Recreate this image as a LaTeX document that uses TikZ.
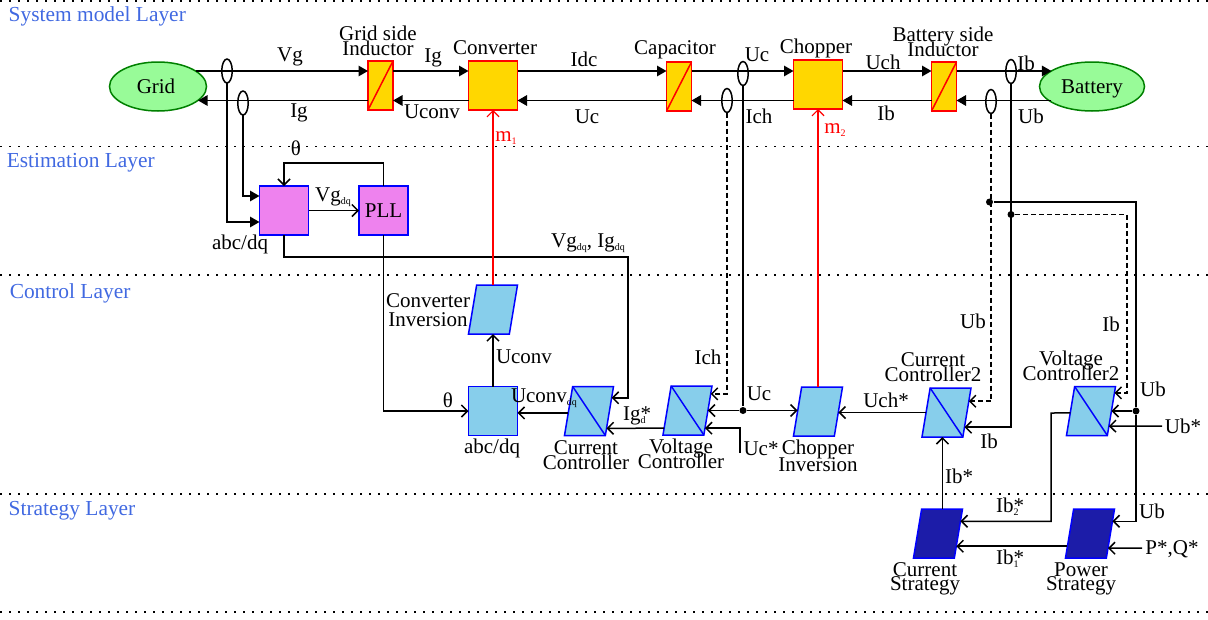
\documentclass[tikz,border=0pt]{standalone}
\usepackage{fontspec}
\setmainfont{Liberation Serif}
\usetikzlibrary{arrows.meta,calc,shapes.geometric}
\definecolor{layerblue}{RGB}{65,105,225}
\definecolor{plantfill}{RGB}{255,215,0}
\definecolor{sourcefill}{RGB}{152,251,152}
\definecolor{sourceedge}{RGB}{0,128,0}
\definecolor{estfill}{RGB}{238,130,238}
\definecolor{ctrlfill}{RGB}{135,206,235}
\definecolor{stratfill}{RGB}{28,28,168}
\newcommand{\subtxt}[1]{\raisebox{-3pt}{\fontsize{10}{10}\selectfont #1}}
\newcommand{\lblfont}{\fontsize{21}{15.5}\selectfont\lineskiplimit=-100pt}
\begin{document}
\begin{tikzpicture}[x=1pt, y=-1pt, line width=1.5pt,
    >={Straight Barb[length=6pt,width=12pt]},
    sig/.style={-{Triangle[length=9.5pt,width=10.5pt]}},
    sensed/.style={dash pattern=on 5pt off 3pt},
    lbl/.style={inner sep=0pt, align=center, font=\lblfont},
    layertag/.style={lbl, anchor=west, text=layerblue, font=\fontsize{21.4}{15.5}\selectfont},
    layerline/.style={line width=1.2pt, dash pattern=on 1.5pt off 7.5pt},
    source/.style={ellipse, draw=sourceedge, fill=sourcefill, inner sep=0pt,
        minimum width=97pt, minimum height=49pt, outer sep=0pt, font=\lblfont},
    plant/.style={rectangle, draw=red, fill=plantfill, line width=1.5pt, inner sep=0pt, outer sep=0pt,
        minimum width=49pt, minimum height=49pt},
    choke/.style={plant, minimum width=25pt},
    sensor/.style={ellipse, draw, inner sep=0pt, outer sep=0pt, minimum width=10.5pt, minimum height=24pt},
    estbox/.style={rectangle, draw=blue, fill=estfill, line width=1.5pt, inner sep=0pt, outer sep=0pt,
        minimum width=49pt, minimum height=49pt, font=\lblfont},
    ctrlbox/.style={estbox, fill=ctrlfill},
    para/.style={trapezium, trapezium left angle=76, trapezium right angle=104, trapezium stretches=true,
        draw=blue, fill=ctrlfill, line width=1.5pt, inner sep=0pt, outer sep=0pt,
        text width=1pt, text height=1pt, text depth=0pt,
        minimum width=49pt, minimum height=49pt},
    stratpara/.style={para, fill=stratfill},
    junction/.style={circle, fill, inner sep=0pt, minimum size=7pt}]

    \useasboundingbox (0,0) rectangle (1208,619);

    % Layer borders
    \draw[layerline] (0,1) -- (1208,1);
    \draw[layerline] (0,146.5) -- (1208,146.5);
    \draw[layerline] (0,275) -- (1208,275);
    \draw[layerline] (0,494) -- (1208,494);
    \draw[layerline] (0,612) -- (1208,612);
    \node[layertag] (tagsys) at (8,16) {System model Layer};
    \node[layertag] (tagest) at (6,162.5) {Estimation Layer};
    \node[layertag] (tagctl) at (9,293) {Control Layer};
    \node[layertag] (tagstr) at (8,510.5) {Strategy Layer};

    % Plant row
    \coordinate (top) at (0,71);
    \coordinate (bot) at (0,100.5);
    \node[source] (grid) at (158,86.5) {\hspace{-4pt}Grid};
    \node[source, minimum width=105pt, text depth=0pt] (batt) at (1092,86.5) {Battery};
    \node[choke] (lg) at (380.5,85.5) {};
    \node[plant] (conv) at (493,85.5) {};
    \node[choke] (cap) at (679,86.5) {};
    \node[plant] (chop) at (818,84.5) {};
    \node[choke] (lb) at (944,86.5) {};
    \draw[red, line width=1.5pt] (lg.south west) -- (lg.north east);
    \draw[red, line width=1.5pt] (cap.south west) -- (cap.north east);
    \draw[red, line width=1.5pt] (lb.south west) -- (lb.north east);

    % Power flow, upper wire
    \draw[sig] (top -| grid.22) -- (top -| lg.west);
    \draw[sig] (top -| lg.east) -- (top -| conv.west);
    \draw[sig] (top -| conv.east) -- (top -| cap.west);
    \draw[sig] (top -| cap.east) -- (top -| chop.west);
    \draw[sig] (top -| chop.east) -- (top -| lb.west);
    \draw[sig] (top -| lb.east) -- (top -| batt.159);
    % Power flow, lower wire
    \draw[sig] (bot -| batt.201) -- (bot -| lb.east);
    \draw[sig] (bot -| lb.west) -- (bot -| chop.east);
    \draw[sig] (bot -| chop.west) -- (bot -| cap.east);
    \draw[sig] (bot -| cap.west) -- (bot -| conv.east);
    \draw[sig] (bot -| conv.west) -- (bot -| lg.east);
    \draw[sig] (bot -| lg.west) -- (bot -| grid.-19);

    % Sensors
    \node[sensor] (sva) at (227,71) {};
    \node[sensor] (sia) at (243,103) {};
    \node[sensor] (suc) at (743,73.5) {};
    \node[sensor] (sic) at (727,100.5) {};
    \node[sensor] (sib) at (1011,71.5) {};
    \node[sensor] (sub) at (991,101.5) {};

    % Estimation blocks
    \node[estbox] (abc) at (284,210.5) {};
    \node[estbox] (pll) at (383.5,210.5) {PLL};
    \draw[sig] (sva.south) |- ([yshift=-11.5pt]abc.west);
    \draw[sig] (sia.south) |- ([yshift=14.5pt]abc.west);
    \draw[->] (abc.east) -- (pll.west);
    \draw[->] (pll.north) -- ++(0,-23) -| (abc.north);

    % Control blocks
    \node[ctrlbox] (dq) at (493,411) {};
    \node[para] (cc) at (589,411) {};
    \node[para] (vc) at (687.5,410.5) {};
    \node[para] (chopinv) at (818,411.5) {};
    \node[para] (cca) at (946.5,412.5) {};
    \node[para] (vca) at (1091,411) {};
    \node[para] (convinv) at (493,309.5) {};
    \draw[blue, line width=1.5pt] (cc.top left corner) -- (cc.bottom right corner);
    \draw[blue, line width=1.5pt] (vc.top left corner) -- (vc.bottom right corner);
    \draw[blue, line width=1.5pt] (cca.top left corner) -- (cca.bottom right corner);
    \draw[blue, line width=1.5pt] (vca.top left corner) -- (vca.bottom right corner);

    % Strategy blocks
    \node[stratpara] (curstr) at (938,533.5) {};
    \node[stratpara] (powstr) at (1090,533.5) {};

    % Side points on the slanted blocks
    \coordinate (ccin) at ($(cc.top right corner)!.23!(cc.bottom right corner)$);
    \coordinate (ccref) at ($(cc.top right corner)!.854!(cc.bottom right corner)$);
    \coordinate (ccout) at ($(cc.top left corner)!.54!(cc.bottom left corner)$);
    \coordinate (vcich) at ($(vc.top right corner)!.16!(vc.bottom right corner)$);
    \coordinate (vcref) at ($(vc.top right corner)!.86!(vc.bottom right corner)$);
    \coordinate (vcout) at ($(vc.top left corner)!.86!(vc.bottom left corner)$);
    \coordinate (ccaub) at ($(cca.top right corner)!.27!(cca.bottom right corner)$);
    \coordinate (ccaib) at ($(cca.top right corner)!.8!(cca.bottom right corner)$);
    \coordinate (vcaib) at ($(vca.top right corner)!.13!(vca.bottom right corner)$);
    \coordinate (vcaref) at ($(vca.top right corner)!.81!(vca.bottom right corner)$);
    \coordinate (vcaout) at ($(vca.top left corner)!.54!(vca.bottom left corner)$);
    \coordinate (curin) at ($(curstr.top right corner)!.25!(curstr.bottom right corner)$);
    \coordinate (curpow) at ($(curstr.top right corner)!.76!(curstr.bottom right corner)$);
    \coordinate (powub) at ($(powstr.top right corner)!.25!(powstr.bottom right corner)$);
    \coordinate (powref) at ($(powstr.top right corner)!.8!(powstr.bottom right corner)$);
    \coordinate (powout) at ($(powstr.top left corner)!.76!(powstr.bottom left corner)$);

    % Free ends and corners
    \coordinate (fbk) at (628,257);
    \coordinate (ucref) at (740,453);
    \coordinate (ubref) at (1162,426);
    \coordinate (pqref) at (1142,548);
    \coordinate (tapu) at (1136,202);
    \coordinate (tapi) at (1127,214.5);
    \coordinate (bend) at (1051,413);

    % Control wiring
    \draw[->] (abc.south) |- (fbk) |- (ccin);
    \draw[->] (pll.south) |- (dq.west);
    \draw[->] (dq.north) -- (convinv.south);
    \draw[->] (ccout) -- (ccout -| dq.east);
    \draw[->] (vcout) -- (ccref);
    \draw[->] (cca.west) -- (cca.west -| chopinv.east);
    \draw[->] (cca.bottom side |- curstr.north) -- (cca.bottom side);
    \draw[->] (ucref) |- (vcref);
    \draw[sensed, ->] (sic.south) |- (vcich);
    \draw[sensed, ->] (sub.south) |- (ccaub);
    \draw[->] (sib.south) |- (ccaib);
    \node[junction] (juc) at (suc.south |- vc.east) {};
    \draw (suc.south) -- (juc);
    \draw[->] (juc) -- (vc.east);
    \draw[->] (juc) -- (juc -| chopinv.west);

    % Battery side feedback
    \node[junction] (jub) at (989.5,202) {};
    \node[junction] (jib) at (1011,214.5) {};
    \node[junction] (jvb) at (tapu |- vca.east) {};
    \draw (jub) -- (tapu) -- (jvb);
    \draw[->] (jvb) -- (vca.east);
    \draw[->] (jvb) |- (powub);
    \draw[sensed, ->] (jib) -- (tapi) |- (vcaib);
    \draw[->] (ubref) -- (vcaref);
    \draw[->] (pqref) -- (powref);
    \draw[->] (vcaout) -- (bend) |- (curin);
    \draw[->] (powout) -- (curpow);

    % Modulation signals
    \draw[red, line width=1.2pt, ->] (convinv.north) -- (convinv.north |- conv.south);
    \draw[red, line width=1.2pt, ->] (chopinv.north) -- (chopinv.north |- chop.south);

    % Upper row texts
    \node[lbl] (tvg) at (290,57) {Vg};
    \node[lbl] (tig) at (299,113) {Ig};
    \node[lbl] (tlg) at (378,41) {Grid side\\Inductor};
    \node[lbl] (tiga) at (433,58) {Ig};
    \node[lbl] (tuconv) at (432,112) {Uconv};
    \node[lbl] (tconv) at (495,48) {Converter};
    \node[lbl] (tidc) at (584,59) {Idc};
    \node[lbl] (tuc) at (587,117) {Uc};
    \node[lbl] (tcap) at (675,50) {Capacitor};
    \node[lbl] (tuca) at (757,55) {Uc};
    \node[lbl] (tich) at (759,116) {Ich};
    \node[lbl] (tchop) at (816,48) {Chopper};
    \node[lbl] (tuch) at (883,62) {Uch};
    \node[lbl] (tib) at (886,113) {Ib};
    \node[lbl] (tlb) at (943,42) {Battery side\\Inductor};
    \node[lbl] (tiba) at (1026,63) {Ib};
    \node[lbl] (tub) at (1031,116) {Ub};
    \node[lbl, text=red] (tma) at (506,138) {m\subtxt{1}};
    \node[lbl, text=red] (tmb) at (835,130) {m\subtxt{2}};

    % Estimation texts
    \node[lbl] (ttha) at (296,148) {θ};
    \node[lbl] (tvgdq) at (333,197) {Vg\subtxt{dq}};
    \node[lbl] (tabc) at (240,244) {abc/dq};
    \node[lbl] (tvidq) at (588,243) {Vg\subtxt{dq}, Ig\subtxt{dq}};

    % Control texts
    \node[lbl] (tinv) at (428,310) {Converter\\[3pt]Inversion};
    \node[lbl] (tuconvb) at (524,357) {Uconv};
    \node[lbl] (tthb) at (448,400) {θ};
    \node[lbl] (tucdq) at (544,398) {Uconv\subtxt{dq}};
    \node[lbl] (tdq) at (492,448) {abc/dq};
    \node[lbl] (tcc) at (586,455) {Current\\Controller};
    \node[lbl] (tigd) at (637,416) {Ig\rlap{\subtxt{d}}*};
    \node[lbl] (tvc) at (681,454) {Voltage\\Controller};
    \node[lbl] (tichb) at (708,357) {Ich};
    \node[lbl] (tucb) at (759,394) {Uc};
    \node[lbl] (tucs) at (761,449) {Uc*};
    \node[lbl] (tci) at (818,456) {Chopper\\[1pt]Inversion};
    \node[lbl] (tuchs) at (886,400) {Uch*};
    \node[lbl] (tcca) at (933,367) {Current\\Controller2};
    \node[lbl] (tuba) at (973,321) {Ub};
    \node[lbl] (tibb) at (989,441) {Ib};
    \node[lbl] (tvca) at (1071,366) {Voltage\\Controller2};
    \node[lbl] (tibc) at (1111,324) {Ib};
    \node[lbl] (tubb) at (1153,389) {Ub};
    \node[lbl] (tubs) at (1183,426) {Ub*};

    % Strategy texts
    \node[lbl] (tibs) at (959,476) {Ib*};
    \node[lbl] (tibt) at (1010,507) {Ib\rlap{\subtxt{2}}*};
    \node[lbl] (tibu) at (1010,559) {Ib\rlap{\subtxt{1}}*};
    \node[lbl] (tubc) at (1152,511) {Ub};
    \node[lbl] (tpq) at (1172,549) {P*,Q*};
    \node[lbl] (tcs) at (925,579) {Current\\[-2pt]Strategy};
    \node[lbl] (tps) at (1081,579) {Power\\[-2pt]Strategy};
\end{tikzpicture}
\end{document}
